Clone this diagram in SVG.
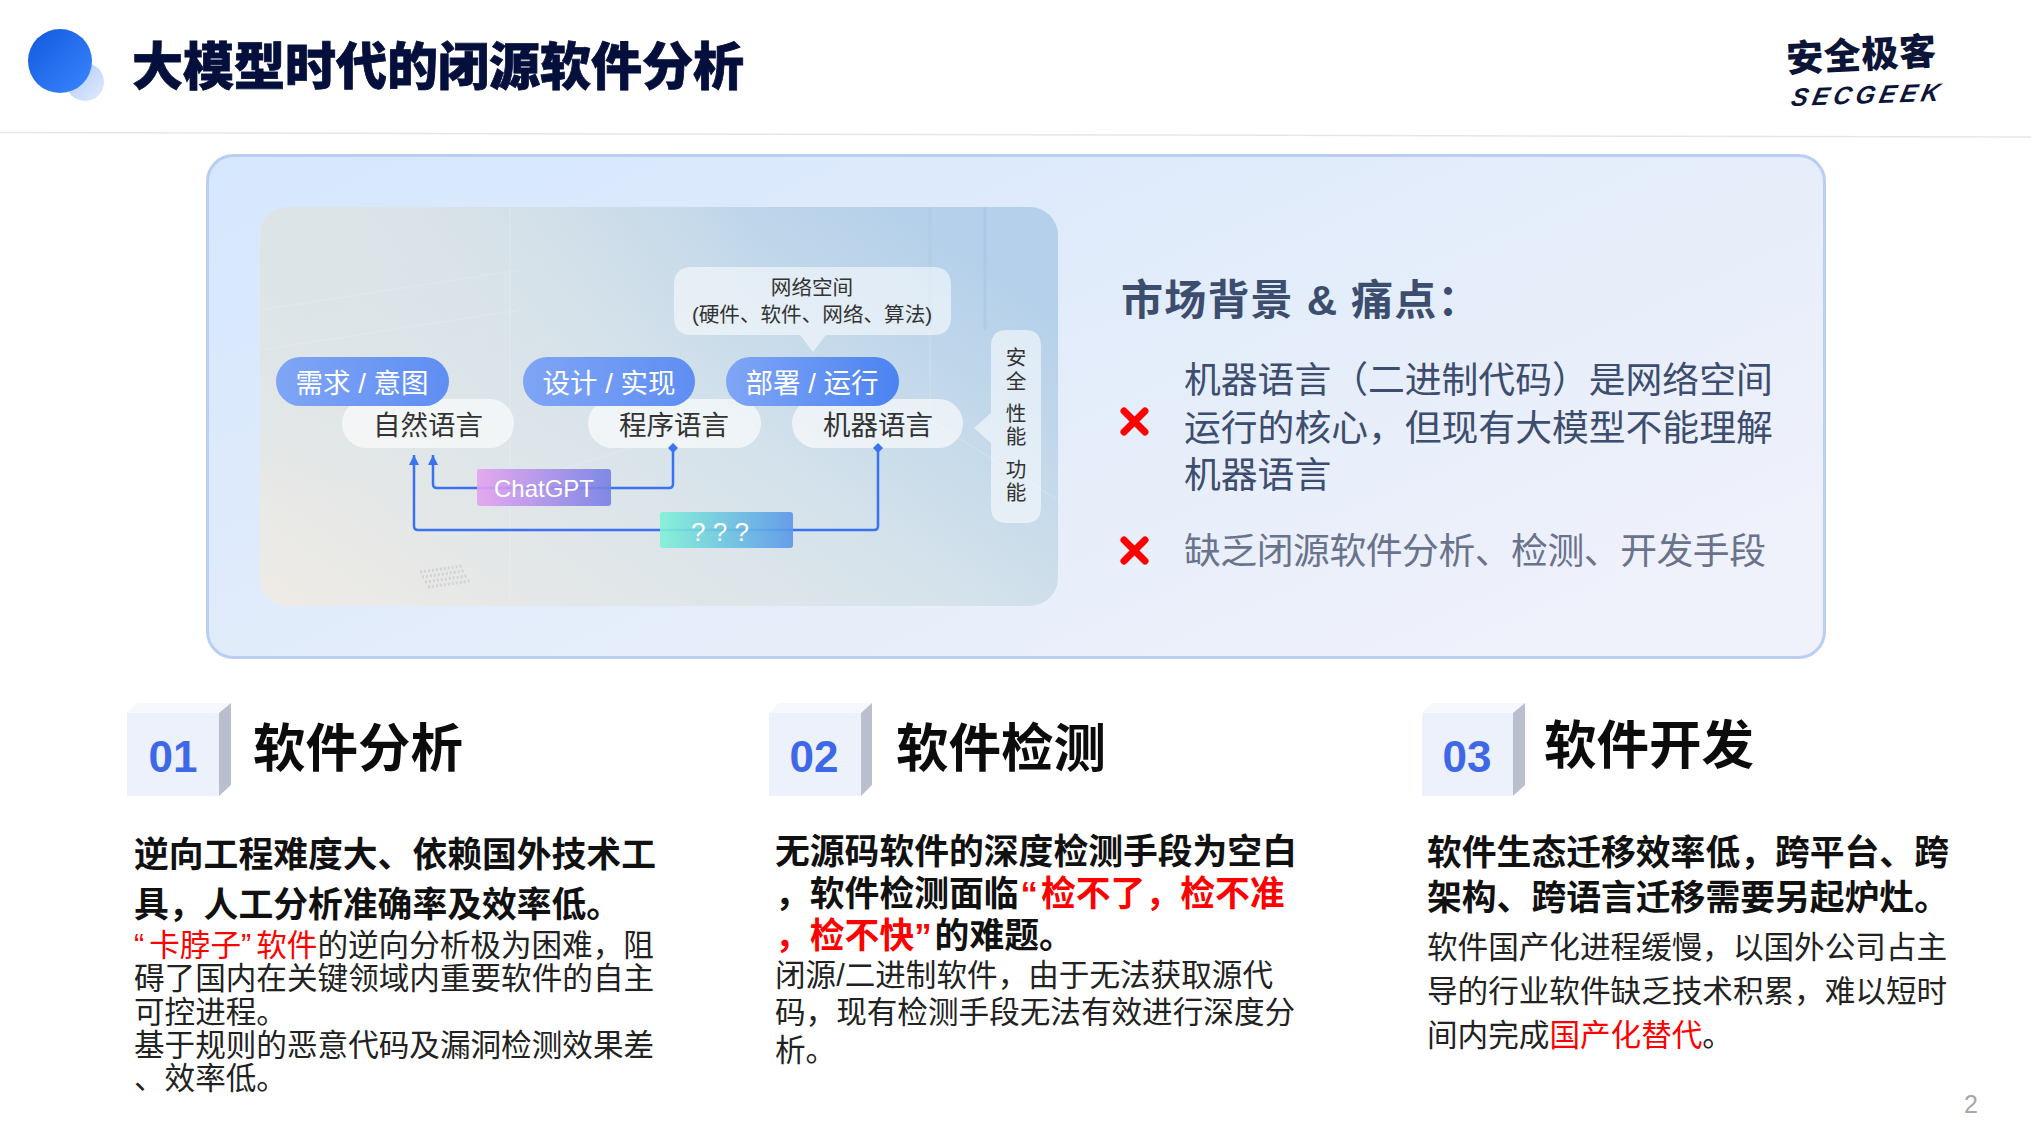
<svg xmlns="http://www.w3.org/2000/svg" width="2031" height="1142" viewBox="0 0 2031 1142">
<style>
text{font-family:"Liberation Sans","Noto Sans CJK SC",sans-serif}
.pill{fill:url(#pillBlue)}
.lang{fill:#fff;fill-opacity:.62}
.pt{fill:#fff;font-size:27.5px;text-anchor:middle}
.lt{fill:#333;font-size:27.5px;text-anchor:middle}
.sm{fill:#333;font-size:20.6px;text-anchor:middle}
.conn{fill:none;stroke:#3a72f2;stroke-width:2.5}
.x{fill:none;stroke:#f00;stroke-width:7;stroke-linecap:round}
.front{fill:#edf1fb}.top{fill:#f6f8fd}.side{fill:#b9bfcc}
.num{fill:#3f68e8;font-size:44px;font-weight:700;text-anchor:middle}
.head{fill:#0c0c0c;font-size:52.500px;font-weight:700}
.b{fill:#111;font-size:34.8px;font-weight:700}
.r{fill:#222;font-size:30.6px}
.red{fill:#f00}
.mk{fill:#3d4d6e;font-size:36.800px}
</style>
<defs>
<linearGradient id="panelBg" x1="0" y1="0" x2="1" y2=".7"><stop offset="0" stop-color="#d5e7fe"/><stop offset=".6" stop-color="#e4edfa"/><stop offset="1" stop-color="#eff1fb"/></linearGradient>
<linearGradient id="imgBg" x1="0" y1="1" x2="1" y2=".25"><stop offset="0" stop-color="#efebe5"/><stop offset=".55" stop-color="#d6e3eb"/><stop offset="1" stop-color="#b4d0ea"/></linearGradient>
<radialGradient id="imgTL" cx="0" cy="0" r="1"><stop offset="0" stop-color="#dde4e6" stop-opacity=".9"/><stop offset="1" stop-color="#dde4e6" stop-opacity="0"/></radialGradient>
<linearGradient id="pillBlue" x1="0" y1="0" x2="1" y2="0"><stop offset="0" stop-color="#7fa5f5"/><stop offset="1" stop-color="#5f8ef3"/></linearGradient>
<linearGradient id="pillBlue2" x1="0" y1="0" x2="1" y2="0"><stop offset="0" stop-color="#7fa5f5"/><stop offset="1" stop-color="#4c83f2"/></linearGradient>
<linearGradient id="chat" x1="0" y1="0" x2="1" y2="0"><stop offset="0" stop-color="#e4a2ee"/><stop offset="1" stop-color="#757fe6"/></linearGradient>
<linearGradient id="qq" x1="0" y1="0" x2="1" y2="0"><stop offset="0" stop-color="#7ff2d6"/><stop offset="1" stop-color="#5a96ea"/></linearGradient>
<linearGradient id="ball" x1="0" y1="0" x2="1" y2="1"><stop offset="0" stop-color="#1259dd"/><stop offset="1" stop-color="#3a86ff"/></linearGradient>
<linearGradient id="ball2" x1="0" y1="0" x2="1" y2="1"><stop offset="0" stop-color="#a9c6f8"/><stop offset="1" stop-color="#e2ecfd"/></linearGradient>
<clipPath id="imgClip"><rect x="260" y="207" width="798" height="399" rx="28"/></clipPath>
<marker id="arrow" markerUnits="userSpaceOnUse" markerWidth="12" markerHeight="12" refX="10" refY="5" orient="auto"><path d="M0 0L10 5L0 10z" fill="#3a72f2"/></marker>
<marker id="dia" markerUnits="userSpaceOnUse" markerWidth="12" markerHeight="12" refX="5" refY="5" orient="auto"><path d="M0 5L5 0L10 5L5 10z" fill="#3a72f2"/></marker>
</defs>
<rect width="2031" height="1142" fill="#fff"/>

<g id="header">
<ellipse cx="85" cy="82" rx="19" ry="19" fill="url(#ball2)"/>
<ellipse cx="60" cy="61" rx="32" ry="32" fill="url(#ball)"/>
<text x="132" y="85" font-size="51" font-weight="900" fill="#050f3c" stroke="#050f3c" stroke-width=".8">大模型时代的闭源软件分析</text>
<path d="M0 132.500L2031 137" stroke="#e6e6e8" stroke-width="1.500" fill="none"/>
</g>
<g id="logo" fill="#0c1538">
<text transform="translate(1787 72) rotate(-3)" font-size="37" font-weight="900" textLength="150">安全极客</text>
<text transform="translate(1790 106) rotate(-2) skewX(-14)" font-size="25" font-weight="700" font-style="italic" textLength="148">SECGEEK</text>
</g>

<g id="panel">
<rect x="207.500" y="155.500" width="1617" height="502" rx="26" fill="url(#panelBg)" stroke="#b9cef2" stroke-width="3"/>
<rect x="260" y="207" width="798" height="399" rx="28" fill="url(#imgBg)"/>
<rect x="260" y="207" width="500" height="300" fill="url(#imgTL)" clip-path="url(#imgClip)"/>
<g clip-path="url(#imgClip)" fill="none" stroke="#fff" stroke-opacity=".12" stroke-width="2">
<path d="M510 207V600M930 207V420M930 420L1058 500M260 310L520 270M260 350L520 310M560 470L720 420"/>
<path d="M930 207V330M985 207V330" stroke="#88b0da" stroke-opacity=".22" stroke-width="3"/>
<path d="M420 572L462 566M422 577L464 571M425 582L467 576M428 587L470 581" stroke="#a8adb3" stroke-opacity=".35" stroke-width="3" stroke-dasharray="2 2"/>
</g>
</g>

<g id="node-natural"><rect class="lang" x="342" y="399" width="172" height="49" rx="24.500"/><text class="lt" x="428" y="435">自然语言</text></g>
<g id="node-program"><rect class="lang" x="588" y="399" width="173" height="49" rx="24.500"/><text class="lt" x="674" y="435">程序语言</text></g>
<g id="node-machine"><rect class="lang" x="792" y="399" width="171" height="49" rx="24.500"/><text class="lt" x="878" y="435">机器语言</text></g>
<g id="node-need"><rect class="pill" x="276" y="357" width="173" height="49" rx="24.500"/><text class="pt" x="362" y="393">需求 / 意图</text></g>
<g id="node-design"><rect class="pill" x="523" y="357" width="172" height="49" rx="24.500"/><text class="pt" x="609" y="393">设计 / 实现</text></g>
<g id="node-deploy"><rect x="726" y="357" width="173" height="49" rx="24.500" fill="url(#pillBlue2)"/><text class="pt" x="812" y="393">部署 / 运行</text></g>
<g id="node-cyberspace">
<path d="M692 267H933Q951 267 951 285V317Q951 335 933 335H826L813 352L800 335H692Q674 335 674 317V285Q674 267 692 267Z" fill="#fff" fill-opacity=".55"/>
<text class="sm" x="812" y="295">网络空间</text>
<text class="sm" x="812" y="322">(硬件、软件、网络、算法)</text>
</g>
<g id="node-side">
<path d="M1007 330H1025Q1041 330 1041 346V507Q1041 523 1025 523H1007Q991 523 991 507V443L974 428L991 413V346Q991 330 1007 330Z" fill="#fff" fill-opacity=".55"/>
<text class="sm" x="1016" y="365">安</text><text class="sm" x="1016" y="389">全</text>
<text class="sm" x="1016" y="421">性</text><text class="sm" x="1016" y="444">能</text>
<text class="sm" x="1016" y="477">功</text><text class="sm" x="1016" y="500">能</text>
</g>

<g id="connectors">
<path class="conn" marker-start="url(#dia)" marker-end="url(#arrow)" d="M673 448V484Q673 488 669 488H437Q433 488 433 484V455"/>
<path class="conn" marker-start="url(#dia)" marker-end="url(#arrow)" d="M878 448V526Q878 530 874 530H418Q414 530 414 526V455"/>
</g>

<g id="node-chatgpt"><rect x="477" y="469" width="134" height="37" rx="3" fill="url(#chat)" fill-opacity=".9"/><text x="544" y="497" fill="#fff" font-size="24" text-anchor="middle">ChatGPT</text></g>
<g id="node-unknown"><rect x="660" y="512" width="133" height="36" rx="3" fill="url(#qq)" fill-opacity=".9"/><text x="720" y="541" fill="#fff" font-size="26" text-anchor="middle">? ? ?</text></g>

<g id="pain">
<text x="1121" y="315" font-size="42" font-weight="700" fill="#3d4d6e" letter-spacing="1.200">市场背景 &amp; 痛点&#xFF1A;</text>
<path class="x" d="M1124 411L1145 432M1145 411L1124 432"/>
<text class="mk" x="1184" y="393">机器语言&#xFF08;二进制代码&#xFF09;是网络空间</text>
<text class="mk" x="1184" y="441">运行的核心&#xFF0C;但现有大模型不能理解</text>
<text class="mk" x="1184" y="488">机器语言</text>
<path class="x" d="M1124 540L1145 561M1145 540L1124 561"/>
<text class="mk" x="1184" y="564" style="fill:#69738c" textLength="582">缺乏闭源软件分析、检测、开发手段</text>
</g>

<g id="section-01">
<path class="top" d="M127 713L137 703H231L219 713Z"/><rect class="front" x="127" y="713" width="92" height="83"/><path class="side" d="M219 713L231 703V785L219 796Z"/>
<text class="num" x="173" y="772">01</text>
<text class="head" x="253" y="767">软件分析</text>
<text class="b" x="134" y="867">逆向工程难度大、依赖国外技术工</text>
<text class="b" x="134" y="917">具&#xFF0C;人工分析准确率及效率低。</text>
<text class="r" x="134" y="956"><tspan class="red">“<tspan dx="5">卡脖子”</tspan><tspan dx="5">软件</tspan></tspan>的逆向分析极为困难&#xFF0C;阻</text>
<text class="r" x="134" y="989">碍了国内在关键领域内重要软件的自主</text>
<text class="r" x="134" y="1023">可控进程。</text>
<text class="r" x="134" y="1056">基于规则的恶意代码及漏洞检测效果差</text>
<text class="r" x="134" y="1089">、效率低。</text>
</g>

<g id="section-02">
<path class="top" d="M769 713L779 703H872L861 713Z"/><rect class="front" x="769" y="713" width="92" height="83"/><path class="side" d="M861 713L872 703V785L861 796Z"/>
<text class="num" x="814" y="772">02</text>
<text class="head" x="896" y="767">软件检测</text>
<text class="b" x="775" y="864">无源码软件的深度检测手段为空白</text>
<text class="b" x="775" y="906">&#xFF0C;软件检测面临<tspan class="red" dx="2">“<tspan dx="3">检不了&#xFF0C;检不准</tspan></tspan></text>
<text class="b" x="775" y="948"><tspan class="red">&#xFF0C;检不快”</tspan><tspan dx="3">的难题。</tspan></text>
<text class="r" x="775" y="986">闭源/二进制软件&#xFF0C;由于无法获取源代</text>
<text class="r" x="775" y="1023">码&#xFF0C;现有检测手段无法有效进行深度分</text>
<text class="r" x="775" y="1061">析。</text>
</g>

<g id="section-03">
<path class="top" d="M1422 713L1432 703H1525L1513 713Z"/><rect class="front" x="1422" y="713" width="91" height="83"/><path class="side" d="M1513 713L1525 703V785L1513 796Z"/>
<text class="num" x="1467" y="772">03</text>
<text class="head" x="1544" y="764">软件开发</text>
<text class="b" x="1427" y="865">软件生态迁移效率低&#xFF0C;跨平台、跨</text>
<text class="b" x="1427" y="910">架构、跨语言迁移需要另起炉灶。</text>
<text class="r" x="1427" y="958">软件国产化进程缓慢&#xFF0C;以国外公司占主</text>
<text class="r" x="1427" y="1002">导的行业软件缺乏技术积累&#xFF0C;难以短时</text>
<text class="r" x="1427" y="1046">间内完成<tspan class="red">国产化替代</tspan>。</text>
</g>
<text id="page" x="1971" y="1113" font-size="25" fill="#a8a8a8" text-anchor="middle">2</text>
</svg>
